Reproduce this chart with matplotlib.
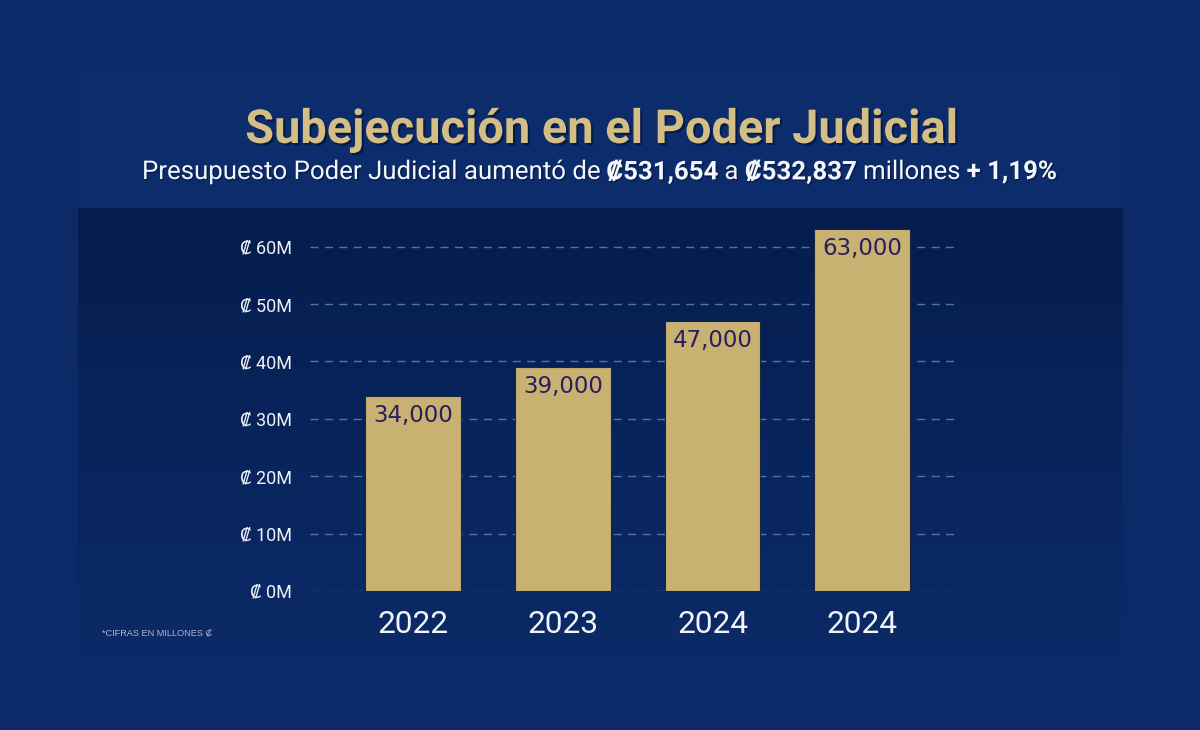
import matplotlib
matplotlib.use("Agg")
import matplotlib.pyplot as plt
import matplotlib.patheffects as pe
import numpy as np
from matplotlib.colors import LinearSegmentedColormap

# ---- data ----
years = ["2022", "2023", "2024", "2024"]
values = [34000, 39000, 47000, 63000]
bar_labels = ["34,000", "39,000", "47,000", "63,000"]
yticks = [0, 10000, 20000, 30000, 40000, 50000, 60000]
ytick_labels = ["₡ 0M", "₡ 10M", "₡ 20M", "₡ 30M", "₡ 40M", "₡ 50M", "₡ 60M"]
title = "Subejecución en el Poder Judicial"
subtitle_parts = [
    ("Presupuesto Poder Judicial aumentó de ", "normal"),
    ("₡531,654", "bold"),
    (" a ", "normal"),
    ("₡532,837", "bold"),
    (" millones ", "normal"),
    ("+ 1,19%", "bold"),
]
footnote = "*CIFRAS EN MILLONES ₡"

W, H = 1200, 730
FAM = ["Roboto", "DejaVu Sans"]
plt.rcParams["font.family"] = FAM

fig = plt.figure(figsize=(W / 100, H / 100), dpi=100)
fig.patch.set_facecolor("#0b2a67")

def fx(px):
    return px / W

def fy(py):
    return 1 - py / H

# background panels
bg = fig.add_axes([0, 0, 1, 1], zorder=-10)
bg.axis("off")
bg.add_patch(plt.Rectangle((78, 68), 1045, 590, color="#0c2c6c", lw=0))
cmap = LinearSegmentedColormap.from_list("g", ["#051d4d", "#08245b", "#0b2a67"])
grad = np.linspace(0, 1, 256).reshape(-1, 1)
bg.imshow(grad, cmap=cmap, extent=(78, 1123, 658, 208), aspect="auto", zorder=1)
bg.set_xlim(0, W)
bg.set_ylim(H, 0)

# main axes
ax_left, ax_right = 310, 958
y0_px = 591
ymax = 64000
px_per = 5.74 / 1000
ytop_px = y0_px - ymax * px_per
ax = fig.add_axes([fx(ax_left), fy(y0_px), (ax_right - ax_left) / W, (y0_px - ytop_px) / H])
ax.set_facecolor("none")
x = np.arange(len(values))
ax.set_xlim(-0.69, 3.64)
ax.set_ylim(0, ymax)

for t in yticks:
    ax.axhline(t, color="#56739f", lw=1.0, dashes=(5.8, 4.6), zorder=1)

bars = ax.bar(x, values, width=0.64, color="#c9b171", edgecolor="#1c2444",
              linewidth=0.8, zorder=3)
for xi, v, lab in zip(x, values, bar_labels):
    ax.annotate(lab, (xi, v), xytext=(0, -13.8), textcoords="offset points",
                ha="center", va="center", fontsize=16.5, color="#2b1d5e",
                family=["DejaVu Sans"], fontweight="medium", zorder=4)

ax.set_xticks(x)
ax.set_xticklabels(years, fontsize=22.8, color="#f2f4fa")
ax.set_yticks(yticks)
ax.set_yticklabels(ytick_labels, fontsize=13, color="#eef1f8")
ax.tick_params(axis="x", length=0, pad=14)
ax.tick_params(axis="y", length=0, pad=13)
for s in ax.spines.values():
    s.set_visible(False)

# title
tt = fig.text(fx(601), fy(130), title, ha="center", va="center", fontsize=35,
              fontweight="bold", color="#d3be86")
fig.canvas.draw()
r = fig.canvas.get_renderer()
w = tt.get_window_extent(r).width
tt.set_fontsize(35 * 714 / w)
tt.set_path_effects([pe.SimplePatchShadow(offset=(1.5, -1.5), shadow_rgbFace="#020f2c", alpha=0.6), pe.Normal()])

# subtitle
base = 17
texts = []
for s, wt in subtitle_parts:
    texts.append(fig.text(0, fy(172), s, ha="left", va="center", fontsize=base,
                          fontweight=wt, color="#f4f6fb"))
fig.canvas.draw()
total = sum(t.get_window_extent(r).width for t in texts)
scale = 918 / total
for t in texts:
    t.set_fontsize(base * scale)
fig.canvas.draw()
cur = 142
for t in texts:
    t.set_x(fx(cur))
    cur += t.get_window_extent(r).width
    t.set_path_effects([pe.SimplePatchShadow(offset=(1, -1), shadow_rgbFace="#020f2c", alpha=0.5), pe.Normal()])

# footnote
fig.text(fx(102), fy(633), footnote, ha="left", va="center", fontsize=6.6,
         color="#aeb7cc", family=["Liberation Sans", "DejaVu Sans"])

fig.savefig("out.png", dpi=100, facecolor=fig.get_facecolor())
